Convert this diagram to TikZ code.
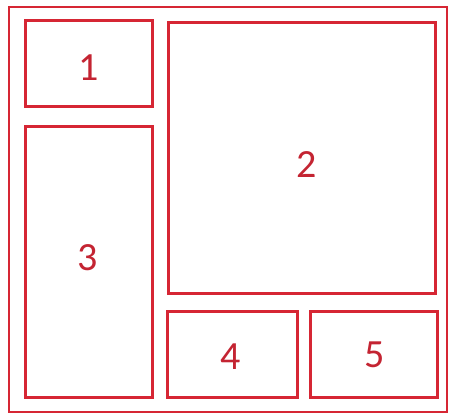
\documentclass[tikz,border=0pt]{standalone}
\usepackage{fontspec}
\setmainfont{Carlito}
\usetikzlibrary{positioning}
\definecolor{panelred}{RGB}{214,38,52}
\definecolor{labelred}{RGB}{196,36,50}

\begin{document}
\begin{tikzpicture}[
  x=1pt,y=-1pt,
  panel/.style={rectangle,draw=panelred,line width=3pt,fill=white,inner sep=0pt},
  frame/.style={rectangle,draw=panelred,line width=2.4pt,inner sep=0pt},
  tag/.style={inner sep=0pt,text=labelred,font=\fontsize{40}{46}\selectfont},
]
\useasboundingbox[fill=white] (0,0) rectangle (449,414);

% outer frame
\node[frame,minimum width=438pt,minimum height=405pt] (frame) at (228,209.5) {};

% left column
\node[panel,minimum width=127pt,minimum height=86pt] (p1) at (88.5,64) {};
\node[panel,minimum width=127pt,minimum height=270pt] (p3) at (88.5,262) {};

% right block
\node[panel,minimum width=267pt,minimum height=270pt] (p2) at (301.5,158) {};
\node[panel,minimum width=130pt,minimum height=86pt] (p4) at (232,354) {};
\node[panel,minimum width=127pt,minimum height=86pt] (p5) at (373.5,354) {};

% numbers
\node[tag] (t1) at ([shift={(0,4)}]p1.center) {1};
\node[tag] (t2) at ([shift={(5,7)}]p2.center) {2};
\node[tag] (t3) at ([shift={(-1,-4)}]p3.center) {3};
\node[tag] (t4) at ([shift={(-1,3)}]p4.center) {4};
\node[tag] (t5) at ([shift={(1,1)}]p5.center) {5};

\end{tikzpicture}
\end{document}
